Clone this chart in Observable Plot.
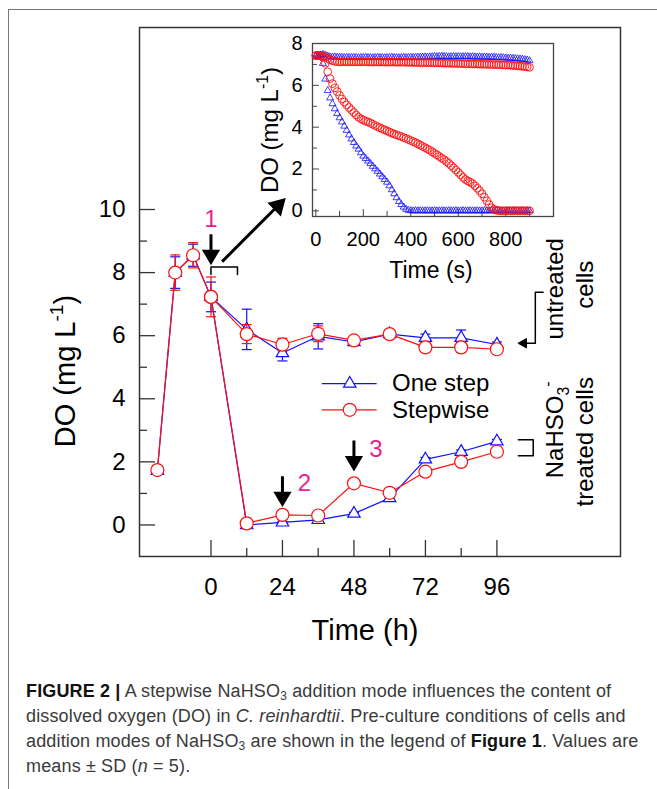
<!DOCTYPE html>
<html>
<head>
<meta charset="utf-8">
<script src="https://cdn.jsdelivr.net/npm/d3@7"></script>
<script src="https://cdn.jsdelivr.net/npm/@observablehq/plot@0.6"></script>
<style>
  html, body { margin: 0; padding: 0; background: #fff; }
  #fig { position: relative; width: 657px; height: 789px; overflow: hidden; font-family: "Liberation Sans", Arial, sans-serif; }
  #border { position: absolute; left: 8px; top: 9px; width: 720px; height: 820px; border: 1px solid #777; box-sizing: border-box; }
  #main { position: absolute; left: 0; top: 0; }
  #inset { position: absolute; left: 240px; top: 30px; }
  #caption { position: absolute; left: 26px; top: 679px; font-size: 18px; letter-spacing: 0.15px; line-height: 25px; color: #3a3a3a; white-space: nowrap; }
  #caption b { color: #111; }
  #caption sub { font-size: 12px; vertical-align: -3px; line-height: 0; }
</style>
</head>
<body>
<div id="fig">
  <div id="border"></div>
  <div id="main"></div>
  <div id="inset"></div>
  <div id="caption"><b>FIGURE 2 |</b> A stepwise NaHSO<sub>3</sub> addition mode influences the content of<br>dissolved oxygen (DO) in <i>C. reinhardtii</i>. Pre-culture conditions of cells and<br>addition modes of NaHSO<sub>3</sub> are shown in the legend of <b>Figure 1</b>. Values are<br>means ± SD (<i>n</i> = 5).</div>
</div>
<script>
// ---------------- main chart data ----------------
const timeH = [-18, -12, -6, 0, 12, 24, 36, 48, 60, 72, 84, 96];
const oneStepUntreated   = [1.72, 8.00, 8.55, 7.23, 6.20, 5.45, 5.98, 5.80, 6.05, 5.93, 5.93, 5.72];
const oneStepUntreatedSD = [0.05, 0.50, 0.35, 0.47, 0.64, 0.25, 0.40, 0.10, 0.08, 0.12, 0.25, 0.08];
const stepwiseUntreated   = [1.74, 8.00, 8.55, 7.23, 6.05, 5.72, 6.06, 5.85, 6.05, 5.63, 5.63, 5.57];
const stepwiseUntreatedSD = [0.05, 0.56, 0.40, 0.63, 0.30, 0.20, 0.25, 0.10, 0.08, 0.10, 0.15, 0.08];
const oneStepTreated   = [null, null, null, 7.23, 0.00, 0.08, 0.16, 0.36, 0.85, 2.08, 2.32, 2.65];
const oneStepTreatedSD = [null, null, null, 0.00, 0.03, 0.03, 0.03, 0.04, 0.05, 0.06, 0.06, 0.06];
const stepwiseTreated   = [null, null, null, 7.23, 0.05, 0.32, 0.30, 1.32, 1.02, 1.69, 2.00, 2.32];
const stepwiseTreatedSD = [null, null, null, 0.00, 0.03, 0.04, 0.04, 0.05, 0.05, 0.06, 0.06, 0.06];

const xMajorTicks = [0, 24, 48, 72, 96];
const xMinorTicks = [12, 36, 60, 84];
const yMajorTicks = [0, 2, 4, 6, 8, 10];
const yMinorTicks = [1, 3, 5, 7, 9];
const seriesNames = ["One step", "Stepwise"];

// ---------------- inset data ----------------
const insetTime = [0,10,20,30,40,50,60,70,80,90,100,110,120,130,140,150,160,170,180,190,200,210,220,230,240,250,260,270,280,290,300,310,320,330,340,350,360,370,380,390,400,410,420,430,440,450,460,470,480,490,500,510,520,530,540,550,560,570,580,590,600,610,620,630,640,650,660,670,680,690,700,710,720,730,740,750,760,770,780,790,800,810,820,830,840,850,860,870,880,890,900];
const insetOneStepUntreated = [
7.40,7.42,7.45,7.48,7.45,7.40,7.36,7.35,7.36,7.35,
7.34,7.34,7.33,7.34,7.33,7.33,7.34,7.33,7.32,7.33,
7.33,7.34,7.33,7.33,7.32,7.33,7.34,7.33,7.33,7.32,
7.33,7.33,7.34,7.33,7.33,7.32,7.33,7.34,7.33,7.33,
7.34,7.33,7.34,7.35,7.34,7.35,7.36,7.35,7.36,7.37,
7.38,7.37,7.38,7.39,7.38,7.37,7.36,7.37,7.38,7.37,
7.38,7.37,7.37,7.38,7.37,7.36,7.37,7.36,7.35,7.36,
7.35,7.36,7.35,7.34,7.35,7.34,7.33,7.32,7.33,7.32,
7.31,7.30,7.30,7.29,7.28,7.27,7.26,7.25,7.23,7.21,
7.18];
const insetStepwiseUntreated = [
7.42,7.43,7.42,7.40,7.35,7.28,7.22,7.18,7.15,7.13,
7.12,7.12,7.13,7.12,7.12,7.13,7.12,7.12,7.13,7.12,
7.13,7.12,7.12,7.12,7.11,7.12,7.12,7.11,7.12,7.11,
7.11,7.11,7.12,7.11,7.11,7.10,7.11,7.11,7.10,7.10,
7.10,7.09,7.10,7.09,7.09,7.08,7.09,7.08,7.08,7.08,
7.08,7.07,7.07,7.07,7.06,7.06,7.06,7.05,7.05,7.05,
7.04,7.04,7.04,7.03,7.03,7.03,7.02,7.02,7.02,7.01,
7.01,7.01,7.00,7.00,7.00,6.99,6.99,6.99,6.98,6.98,
6.97,6.97,6.96,6.95,6.94,6.93,6.92,6.91,6.90,6.88,
6.86];
const insetOneStepTreated = [
7.40,7.42,7.45,7.05,6.30,5.75,5.40,5.12,4.88,4.65,
4.45,4.25,4.05,3.85,3.63,3.44,3.27,3.10,2.95,2.78,
2.62,2.50,2.38,2.26,2.13,2.01,1.89,1.76,1.63,1.50,
1.37,1.20,1.01,0.82,0.63,0.45,0.30,0.18,0.08,0.03,
0.01,0.00,0.01,0.00,0.01,0.00,0.00,0.01,0.00,0.00,
0.01,0.00,0.00,0.01,0.00,0.00,0.01,0.00,0.00,0.01,
0.00,0.00,0.01,0.00,0.00,0.01,0.00,0.00,0.01,0.00,
0.00,0.01,0.00,0.00,0.01,0.00,0.00,0.01,0.00,0.00,
0.01,0.00,0.00,0.01,0.00,0.00,0.01,0.00,0.00,0.01,
0.01];
const insetStepwiseTreated = [
7.42,7.43,7.40,7.35,7.05,6.65,6.32,6.08,5.88,5.70,
5.52,5.35,5.20,5.07,4.94,4.82,4.70,4.58,4.48,4.40,
4.34,4.29,4.25,4.20,4.14,4.08,4.02,3.97,3.92,3.87,
3.82,3.77,3.72,3.67,3.63,3.59,3.55,3.50,3.46,3.41,
3.36,3.31,3.26,3.20,3.14,3.08,3.02,2.96,2.90,2.82,
2.75,2.68,2.60,2.52,2.45,2.36,2.27,2.16,2.06,1.95,
1.84,1.72,1.60,1.50,1.43,1.37,1.30,1.20,1.08,0.96,
0.82,0.65,0.48,0.30,0.15,0.07,0.03,0.01,0.00,0.00,
0.00,0.01,0.00,0.00,0.01,0.00,0.00,0.01,0.00,0.00,
0.00];
const insetXMajorTicks = [0, 200, 400, 600, 800];
const insetXMinorTicks = [100, 300, 500, 700, 900];
const insetYMajorTicks = [0, 2, 4, 6, 8];
const insetYMinorTicks = [1, 3, 5, 7];

// ---------------- annotations (data units of the main chart) ----------------
const stepLabels = [{t: 0, v: 9.70, label: "1"}, {t: 31.4, v: 1.33, label: "2"}, {t: 55.4, v: 2.39, label: "3"}];
const stepArrowTips = [{t: 0, v: 8.33}, {t: 24, v: 0.66}, {t: 48, v: 1.79}];
const insetArrowTip = [{t: 24.4, v: 10.3}];
const bracketInset = [{t: 0, v: 7.94}, {t: 0, v: 8.18}, {t: 8.9, v: 8.18}, {t: 8.9, v: 7.94}];
const bracketUntreated = [{t: 111.5, v: 7.38}, {t: 108.9, v: 7.38}, {t: 108.9, v: 5.76}, {t: 104.5, v: 5.76}];
const untreatedArrowTip = [{t: 103.2, v: 5.76}];
const bracketTreated = [{t: 103.2, v: 2.70}, {t: 108.2, v: 2.70}, {t: 108.2, v: 2.19}, {t: 103.2, v: 2.19}];
const legendRows = [{name: "One step", v: 4.48}, {name: "Stepwise", v: 3.65}];
const legendX = {x1: 37.4, x2: 55.8, mark: 46.6, text: 60.8};
const sideLabels = [
  {t: 118.3, v: 7.47, parts: [["untreated"]]},
  {t: 128.3, v: 7.60, parts: [["cells"]]},
  {t: 118.3, v: 3.00, parts: [["NaHSO"], ["3", "sub"], ["-", "sup"]]},
  {t: 128.3, v: 2.62, parts: [["treated cells"]]}
];

// ---------------- build tables ----------------
const blue = "#1010ff", red = "#ff1010", magenta = "#ea1e8c";
const mainRows = [];
function addRows(vals, sds, series, group) {
  timeH.forEach((t, i) => { if (vals[i] != null) mainRows.push({t, v: vals[i], sd: sds[i], series, group}); });
}
addRows(oneStepUntreated, oneStepUntreatedSD, "One step", "os-u");
addRows(oneStepTreated, oneStepTreatedSD, "One step", "os-t");
addRows(stepwiseUntreated, stepwiseUntreatedSD, "Stepwise", "sw-u");
addRows(stepwiseTreated, stepwiseTreatedSD, "Stepwise", "sw-t");
const osRows = mainRows.filter(d => d.series === "One step");
const swRows = mainRows.filter(d => d.series === "Stepwise");

const insetRows = [];
function addInset(vals, series) { insetTime.forEach((t, i) => insetRows.push({t, v: vals[i], series})); }
addInset(insetOneStepUntreated, "One step");
addInset(insetOneStepTreated, "One step");
addInset(insetStepwiseUntreated, "Stepwise");
addInset(insetStepwiseTreated, "Stepwise");

const capSymbol = { draw(ctx, size) { const w = Math.sqrt(size / Math.PI); ctx.moveTo(-w, 0); ctx.lineTo(w, 0); } };
const arrowShape = (hl, hw) => ({
  draw(ctx, l) {
    ctx.moveTo(0, 0); ctx.lineTo(0, -l + hl);
    ctx.moveTo(-hw, -l + hl); ctx.lineTo(0, -l); ctx.lineTo(hw, -l + hl); ctx.closePath();
  }
});

function errMarks(rows, color) {
  return [
    Plot.ruleX(rows, {x: "t", y1: d => d.v - d.sd, y2: d => d.v + d.sd, stroke: color, strokeWidth: 1.2}),
    Plot.dot(rows, {x: "t", y: d => d.v + d.sd, symbol: capSymbol, r: 5, stroke: color, strokeWidth: 1.2, fill: "none"}),
    Plot.dot(rows, {x: "t", y: d => d.v - d.sd, symbol: capSymbol, r: 5, stroke: color, strokeWidth: 1.2, fill: "none"})
  ];
}

const font = "'Liberation Sans', Arial, sans-serif";
const style = {background: "transparent", fontFamily: font, color: "#000", overflow: "visible"};

const main = Plot.plot({
  width: 657, height: 660,
  marginLeft: 139, marginRight: 37, marginTop: 27, marginBottom: 104,
  x: {domain: [-24, 137.5]},
  y: {domain: [-1, 15.77]},
  style,
  marks: [
    Plot.frame({stroke: "#333", strokeWidth: 1.5}),
    Plot.axisX({ticks: xMajorTicks, tickSize: -16, stroke: "#333", strokeWidth: 1.3, fill: "none", label: null}),
    Plot.axisX({ticks: xMinorTicks, tickSize: -8, stroke: "#333", strokeWidth: 1.3, fill: "none", label: null}),
    Plot.axisX({ticks: xMajorTicks, tickSize: 0, tickPadding: 21, fontSize: 24, label: null}),
    Plot.axisY({ticks: yMajorTicks, tickSize: -16, stroke: "#333", strokeWidth: 1.3, fill: "none", label: null}),
    Plot.axisY({ticks: yMinorTicks, tickSize: -8, stroke: "#333", strokeWidth: 1.3, fill: "none", label: null}),
    Plot.axisY({ticks: yMajorTicks, tickSize: 0, tickPadding: 14, fontSize: 24, label: null}),
    // One step
    Plot.line(osRows, {x: "t", y: "v", z: "group", stroke: blue, strokeWidth: 1.2}),
    ...errMarks(osRows, blue),
    Plot.dot(osRows, {x: "t", y: "v", symbol: "triangle", r: 4.6, stroke: blue, strokeWidth: 1.2, fill: "white"}),
    // Stepwise
    Plot.line(swRows, {x: "t", y: "v", z: "group", stroke: red, strokeWidth: 1.2}),
    ...errMarks(swRows, red),
    Plot.dot(swRows, {x: "t", y: "v", r: 6.5, stroke: red, strokeWidth: 1.2, fill: "white"}),
    // legend
    Plot.ruleY(legendRows, {y: "v", x1: legendX.x1, x2: legendX.x2, stroke: d => d.name === "One step" ? blue : red, strokeWidth: 1.2}),
    Plot.dot(legendRows.slice(0, 1), {x: legendX.mark, y: "v", symbol: "triangle", r: 4.6, stroke: blue, strokeWidth: 1.2, fill: "white"}),
    Plot.dot(legendRows.slice(1), {x: legendX.mark, y: "v", r: 6.5, stroke: red, strokeWidth: 1.2, fill: "white"}),
    Plot.text(legendRows, {x: legendX.text, y: "v", text: "name", textAnchor: "start", fontSize: 24, fill: "#000"}),
    // annotations
    Plot.text(stepLabels, {x: "t", y: "v", text: "label", fontSize: 24, fill: magenta}),
    Plot.vector(stepArrowTips, {x: "t", y: "v", length: 28, rotate: 180, anchor: "end", shape: arrowShape(11, 6.5), stroke: "#000", fill: "#000", strokeWidth: 3, strokeLinejoin: "miter", strokeLinecap: "butt"}),
    Plot.vector(insetArrowTip, {x: "t", y: "v", length: 87, rotate: 45, anchor: "end", shape: arrowShape(12, 7), stroke: "#000", fill: "#000", strokeWidth: 3, strokeLinejoin: "miter", strokeLinecap: "butt"}),
    Plot.line(bracketInset, {x: "t", y: "v", stroke: "#000", strokeWidth: 1.5}),
    Plot.line(bracketUntreated, {x: "t", y: "v", stroke: "#000", strokeWidth: 1.5}),
    Plot.vector(untreatedArrowTip, {x: "t", y: "v", length: 9, rotate: 270, anchor: "end", shape: arrowShape(8, 4.5), stroke: "#000", fill: "#000", strokeWidth: 1.2}),
    Plot.line(bracketTreated, {x: "t", y: "v", stroke: "#000", strokeWidth: 1.5})
  ]
});
document.getElementById("main").appendChild(main);

// text with sub/superscripts
const sx = main.scale("x"), sy = main.scale("y");
const msvg = d3.select(main);
function richText(sel, parts, size) {
  let shift = 0;
  parts.forEach(([txt, kind]) => {
    const ts = sel.append("tspan").text(txt);
    let target = 0, fs = size;
    if (kind === "sub") { target = size * 0.25; fs = size * 0.66; }
    if (kind === "sup") { target = -size * 0.42; fs = size * 0.66; }
    ts.attr("font-size", fs).attr("dy", target - shift);
    shift = target;
  });
  if (shift !== 0) sel.append("tspan").attr("dy", -shift).text("");
}
// y-axis title
const yt = msvg.append("text").attr("transform", "translate(75,371) rotate(-90)").attr("text-anchor", "middle")
  .attr("font-family", font).attr("fill", "#000");
richText(yt, [["DO (mg L"], ["-1", "sup"], [")"]], 29);
// x-axis title
msvg.append("text").attr("x", 365).attr("y", 640).attr("text-anchor", "middle").attr("font-family", font)
  .attr("font-size", 29).attr("fill", "#000").text("Time (h)");
// side labels
sideLabels.forEach(d => {
  const t = msvg.append("text")
    .attr("transform", `translate(${sx.apply(d.t)},${sy.apply(d.v)}) rotate(-90)`)
    .attr("text-anchor", "middle").attr("font-family", font).attr("fill", "#000");
  richText(t, d.parts, 24);
});

// ---------------- inset ----------------
const osInset = insetRows.filter(d => d.series === "One step");
const swInset = insetRows.filter(d => d.series === "Stepwise");
const inset = Plot.plot({
  width: 320, height: 255,
  marginLeft: 72, marginRight: 7, marginTop: 13, marginBottom: 69,
  x: {domain: [-14, 1001]},
  y: {domain: [-0.27, 8]},
  style,
  marks: [
    Plot.frame({stroke: "#444", strokeWidth: 1.3}),
    Plot.axisX({ticks: insetXMajorTicks, tickSize: -7, stroke: "#444", fill: "none", label: null}),
    Plot.axisX({ticks: insetXMinorTicks, tickSize: -5, stroke: "#444", fill: "none", label: null}),
    Plot.axisX({ticks: insetXMajorTicks, tickSize: 0, tickPadding: 15, fontSize: 20, label: null}),
    Plot.axisY({ticks: insetYMajorTicks, tickSize: -7, stroke: "#444", fill: "none", label: null}),
    Plot.axisY({ticks: insetYMinorTicks, tickSize: -5, stroke: "#444", fill: "none", label: null}),
    Plot.axisY({ticks: insetYMajorTicks, tickSize: 0, tickPadding: 10, fontSize: 20, label: null}),
    Plot.dot(osInset, {x: "t", y: "v", symbol: "triangle", r: 2.6, stroke: blue, strokeWidth: 0.8, fill: "none"}),
    Plot.dot(swInset, {x: "t", y: "v", r: 3.9, stroke: red, strokeWidth: 0.9, fill: "none"})
  ]
});
document.getElementById("inset").appendChild(inset);
const isvg = d3.select(inset);
const iyt = isvg.append("text").attr("transform", "translate(38,100) rotate(-90)").attr("text-anchor", "middle")
  .attr("font-family", font).attr("fill", "#000");
richText(iyt, [["DO (mg L"], ["-1", "sup"], [")"]], 24);
isvg.append("text").attr("x", 191).attr("y", 248).attr("text-anchor", "middle").attr("font-family", font)
  .attr("font-size", 23).attr("fill", "#000").text("Time (s)");
</script>
</body>
</html>
